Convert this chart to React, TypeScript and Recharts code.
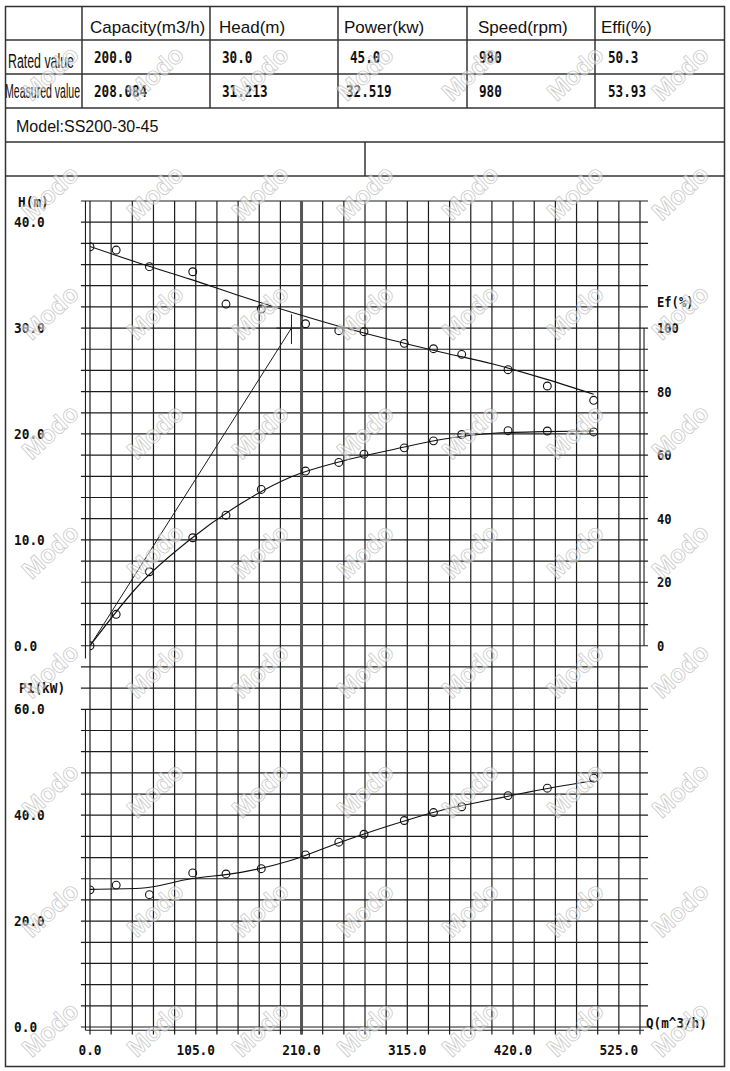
import { ComposedChart, Line, ReferenceLine, Scatter, XAxis, YAxis } from 'recharts';

// header table
const columns = ['Capacity(m3/h)', 'Head(m)', 'Power(kw)', 'Speed(rpm)', 'Effi(%)'];
const ratedValues = ['200.0', '30.0', '45.0', '980', '50.3'];
const measuredValues = ['208.084', '31.213', '32.519', '980', '53.93'];
const modelName = 'Model:SS200-30-45';

// measured test points
const flowMeasured = [0, 26, 59, 102, 135, 170, 214, 247, 272, 312, 341, 369, 415, 454, 500];
const headMeasured = [37.68, 37.37, 35.8, 35.32, 32.27, 31.8, 30.41, 29.75, 29.66, 28.56, 28.05, 27.52, 26.07, 24.53, 23.18];
const effMeasured = [0, 9.9, 23.3, 34.0, 41.1, 49.2, 55.0, 57.7, 60.3, 62.3, 64.5, 66.5, 67.7, 67.6, 67.3];
const powerMeasured = [25.9, 26.8, 25.0, 29.1, 28.9, 29.9, 32.5, 34.9, 36.4, 39.0, 40.5, 41.6, 43.7, 45.1, 47.0];

// fitted curves
const flowCurve = [0, 50, 100, 150, 200, 250, 300, 350, 400, 450, 500];
const headCurve = [37.7, 36.1, 34.6, 33.0, 31.5, 30.1, 28.85, 27.7, 26.6, 25.25, 23.75];
const effCurve = [0, 19.6, 33.6, 44.8, 53.2, 58.1, 61.7, 65.0, 66.9, 67.4, 67.6];
const powerCurve = [26.0, 26.2, 28.0, 29.2, 31.5, 35.0, 38.2, 41.0, 43.0, 44.9, 46.5];

const ratedFlow = 200;
const ratedHead = 30;

const qTicks = [0, 105, 210, 315, 420, 525];
const hTicks = [0, 10, 20, 30, 40];
const pTicks = [0, 20, 40, 60];
const efTicks = [0, 20, 40, 60, 80, 100];

// grid: one cell = 21 m3/h wide, 2 m (or 4 kW) high
const Q_MAX = 546;
const H_MIN = -36;
const H_MAX = 42;
const P_MAX = 156;
const gridQ = Array.from({ length: Q_MAX / 21 + 1 }, (_, i) => i * 21);
const gridH = Array.from({ length: (H_MAX - H_MIN) / 2 + 1 }, (_, i) => H_MIN + i * 2);

const headPoints = flowMeasured.map((q, i) => ({ q, v: headMeasured[i] }));
const effPoints = flowMeasured.map((q, i) => ({ q, v: effMeasured[i] }));
const powerPoints = flowMeasured.map((q, i) => ({ q, v: powerMeasured[i] }));
const headLine = flowCurve.map((q, i) => ({ q, v: headCurve[i] }));
const effLine = flowCurve.map((q, i) => ({ q, v: effCurve[i] }));
const powerLine = flowCurve.map((q, i) => ({ q, v: powerCurve[i] }));

const INK = '#1c1c1c';
const MONO = '"DejaVu Sans Mono", "Liberation Mono", monospace';
const SANS = '"Liberation Sans", Arial, sans-serif';

function Mono({ x, y, text, anchor = 'start', size = 14, cw = 7.7 }: any) {
  return (
    <text
      x={x}
      y={y}
      fontFamily={MONO}
      fontWeight="bold"
      fontSize={size}
      fill="#111"
      textAnchor={anchor}
      textLength={text.length * cw}
      lengthAdjust="spacingAndGlyphs"
    >
      {text}
    </text>
  );
}

const colX = [82, 210, 338, 467, 595];
const headerX = [90, 219, 344, 478, 601];
const ratedX = [94, 222, 350, 479, 608];
const measuredX = [94, 222, 346, 479, 608];

function HeaderSheet() {
  return (
    <svg width={730} height={1071} style={{ position: 'absolute', left: 0, top: 0 }}>
      <rect x={5.5} y={6.5} width={719} height={1060} fill="#fff" stroke="#333" strokeWidth={1.5} />
      {[40, 74, 108, 142, 176].map((y) => (
        <line key={y} x1={5} x2={725} y1={y} y2={y} stroke="#333" strokeWidth={1.5} />
      ))}
      {colX.map((x) => (
        <line key={x} x1={x} x2={x} y1={6} y2={108} stroke="#333" strokeWidth={1.5} />
      ))}
      <line x1={365} x2={365} y1={142} y2={176} stroke="#333" strokeWidth={1.5} />

      {columns.map((c, i) => (
        <text key={c} x={headerX[i]} y={33} fontFamily={SANS} fontSize={17} fill="#111">
          {c}
        </text>
      ))}
      <text x={8} y={68} fontFamily={SANS} fontSize={20} fill="#111" textLength={66} lengthAdjust="spacingAndGlyphs">
        Rated value
      </text>
      <text x={5} y={98} fontFamily={SANS} fontSize={20} fill="#111" textLength={75} lengthAdjust="spacingAndGlyphs">
        Measured value
      </text>
      {ratedValues.map((v, i) => (
        <Mono key={'r' + i} x={ratedX[i]} y={63} text={v} size={15} cw={7.6} />
      ))}
      {measuredValues.map((v, i) => (
        <Mono key={'m' + i} x={measuredX[i]} y={97} text={v} size={15} cw={7.6} />
      ))}
      <text x={16} y={132} fontFamily={SANS} fontSize={16} fill="#111">
        {modelName}
      </text>

      <Mono x={18} y={207} text="H(m)" />
      <Mono x={657} y={307} text="Ef(%)" cw={7.3} />
      <Mono x={19} y={693} text="P1(kW)" />
      <Mono x={646} y={1028} text="Q(m^3/h)" cw={7.6} />
    </svg>
  );
}

function Watermarks() {
  const marks = [];
  for (let r = 0; r < 9; r++) {
    for (let c = 0; c < 7; c++) {
      const x = 50 + c * 105;
      const y = 73 + r * 119.5;
      marks.push(
        <text
          key={r + '-' + c}
          x={x}
          y={y}
          textAnchor="middle"
          dominantBaseline="central"
          transform={`rotate(-43 ${x} ${y})`}
          fontFamily={SANS}
          fontWeight="bold"
          fontSize={25}
          fill="rgba(255,255,255,0.5)"
          stroke="rgba(170,170,170,0.6)"
          strokeWidth={0.9}
        >
          Modo
        </text>
      );
    }
  }
  return (
    <svg width={730} height={1071} style={{ position: 'absolute', left: 0, top: 0, pointerEvents: 'none' }}>
      {marks}
    </svg>
  );
}

const leftTick = ({ y, payload }: any) => <Mono x={14} y={y + 5} text={payload.value.toFixed(1)} />;
const rightTick = ({ y, payload }: any) => <Mono x={657} y={y + 5} text={String(payload.value)} cw={7.3} />;
const bottomTick = ({ x, y, payload }: any) => (
  <Mono x={x} y={y + 28} anchor="middle" text={payload.value.toFixed(1)} />
);

const ring = (props: any) => (
  <circle cx={props.cx} cy={props.cy} r={3.9} fill="none" stroke="#111" strokeWidth={1.1} />
);

export default function App() {
  return (
    <div style={{ position: 'absolute', left: 0, top: 0, width: 730, height: 1071, background: '#fff' }}>
      <HeaderSheet />
      <div style={{ position: 'absolute', left: 0, top: 0 }}>
        <ComposedChart width={730} height={1071} margin={{ top: 201, right: 0, bottom: 0, left: 0 }}>
          <XAxis
            type="number"
            dataKey="q"
            domain={[0, Q_MAX]}
            ticks={qTicks}
            interval={0}
            allowDataOverflow
            height={44}
            axisLine={false}
            tickLine={false}
            tickSize={0}
            tickMargin={0}
            tick={bottomTick}
          />
          <YAxis
            yAxisId="h"
            orientation="left"
            width={45}
            domain={[H_MIN, H_MAX]}
            ticks={hTicks}
            interval={0}
            allowDataOverflow
            axisLine={false}
            tickLine={false}
            tickSize={0}
            tick={leftTick}
          />
          <YAxis
            yAxisId="p"
            orientation="left"
            width={45}
            domain={[0, P_MAX]}
            ticks={pTicks}
            interval={0}
            allowDataOverflow
            axisLine={false}
            tickLine={false}
            tickSize={0}
            tick={leftTick}
          />
          <YAxis
            yAxisId="ef"
            orientation="right"
            width={90}
            domain={[(H_MIN * 100) / 30, (H_MAX * 100) / 30]}
            ticks={efTicks}
            interval={0}
            allowDataOverflow
            axisLine={false}
            tickLine={false}
            tickSize={0}
            tick={rightTick}
          />

          {gridH.map((h) => (
            <ReferenceLine
              key={'gh' + h}
              yAxisId="h"
              segment={[{ x: -9, y: h }, { x: 554, y: h }]}
              stroke={INK}
              strokeWidth={1.2}
              ifOverflow="visible"
            />
          ))}
          {gridQ.map((q) => (
            <ReferenceLine
              key={'gq' + q}
              yAxisId="p"
              segment={[{ x: q, y: -1.4 }, { x: q, y: P_MAX }]}
              stroke={INK}
              strokeWidth={1.2}
              ifOverflow="visible"
            />
          ))}
          <ReferenceLine
            yAxisId="p"
            segment={[{ x: 210, y: -1.4 }, { x: 210, y: P_MAX }]}
            stroke="#555"
            strokeWidth={3}
            ifOverflow="visible"
          />
          {/* axis lines */}
          <ReferenceLine yAxisId="h" segment={[{ x: -4.5, y: -1.2 }, { x: -4.5, y: H_MAX }]} stroke={INK} strokeWidth={1.1} ifOverflow="visible" />
          <ReferenceLine yAxisId="p" segment={[{ x: -4.5, y: -0.6 }, { x: -4.5, y: 60 }]} stroke={INK} strokeWidth={1.1} ifOverflow="visible" />
          <ReferenceLine yAxisId="ef" segment={[{ x: 550, y: 0 }, { x: 550, y: 100 }]} stroke={INK} strokeWidth={1.1} ifOverflow="visible" />
          <ReferenceLine yAxisId="p" segment={[{ x: -4.5, y: -0.6 }, { x: 550, y: -0.6 }]} stroke={INK} strokeWidth={1.1} ifOverflow="visible" />

          {/* rated point construction */}
          <ReferenceLine yAxisId="h" segment={[{ x: 0, y: 0 }, { x: ratedFlow, y: ratedHead }]} stroke={INK} strokeWidth={1} ifOverflow="visible" />
          <ReferenceLine yAxisId="h" segment={[{ x: ratedFlow, y: ratedHead - 1.5 }, { x: ratedFlow, y: ratedHead + 1.3 }]} stroke={INK} strokeWidth={1} ifOverflow="visible" />
          <ReferenceLine yAxisId="h" segment={[{ x: ratedFlow - 15, y: ratedHead }, { x: ratedFlow + 10, y: ratedHead }]} stroke={INK} strokeWidth={1} ifOverflow="visible" />

          <Line yAxisId="h" data={headLine} dataKey="v" type="monotone" stroke="#111" strokeWidth={1.1} dot={false} isAnimationActive={false} />
          <Line yAxisId="ef" data={effLine} dataKey="v" type="monotone" stroke="#111" strokeWidth={1.1} dot={false} isAnimationActive={false} />
          <Line yAxisId="p" data={powerLine} dataKey="v" type="monotone" stroke="#111" strokeWidth={1.1} dot={false} isAnimationActive={false} />

          <Scatter yAxisId="h" data={headPoints} dataKey="v" shape={ring} isAnimationActive={false} />
          <Scatter yAxisId="ef" data={effPoints} dataKey="v" shape={ring} isAnimationActive={false} />
          <Scatter yAxisId="p" data={powerPoints} dataKey="v" shape={ring} isAnimationActive={false} />
        </ComposedChart>
      </div>
      <Watermarks />
    </div>
  );
}
